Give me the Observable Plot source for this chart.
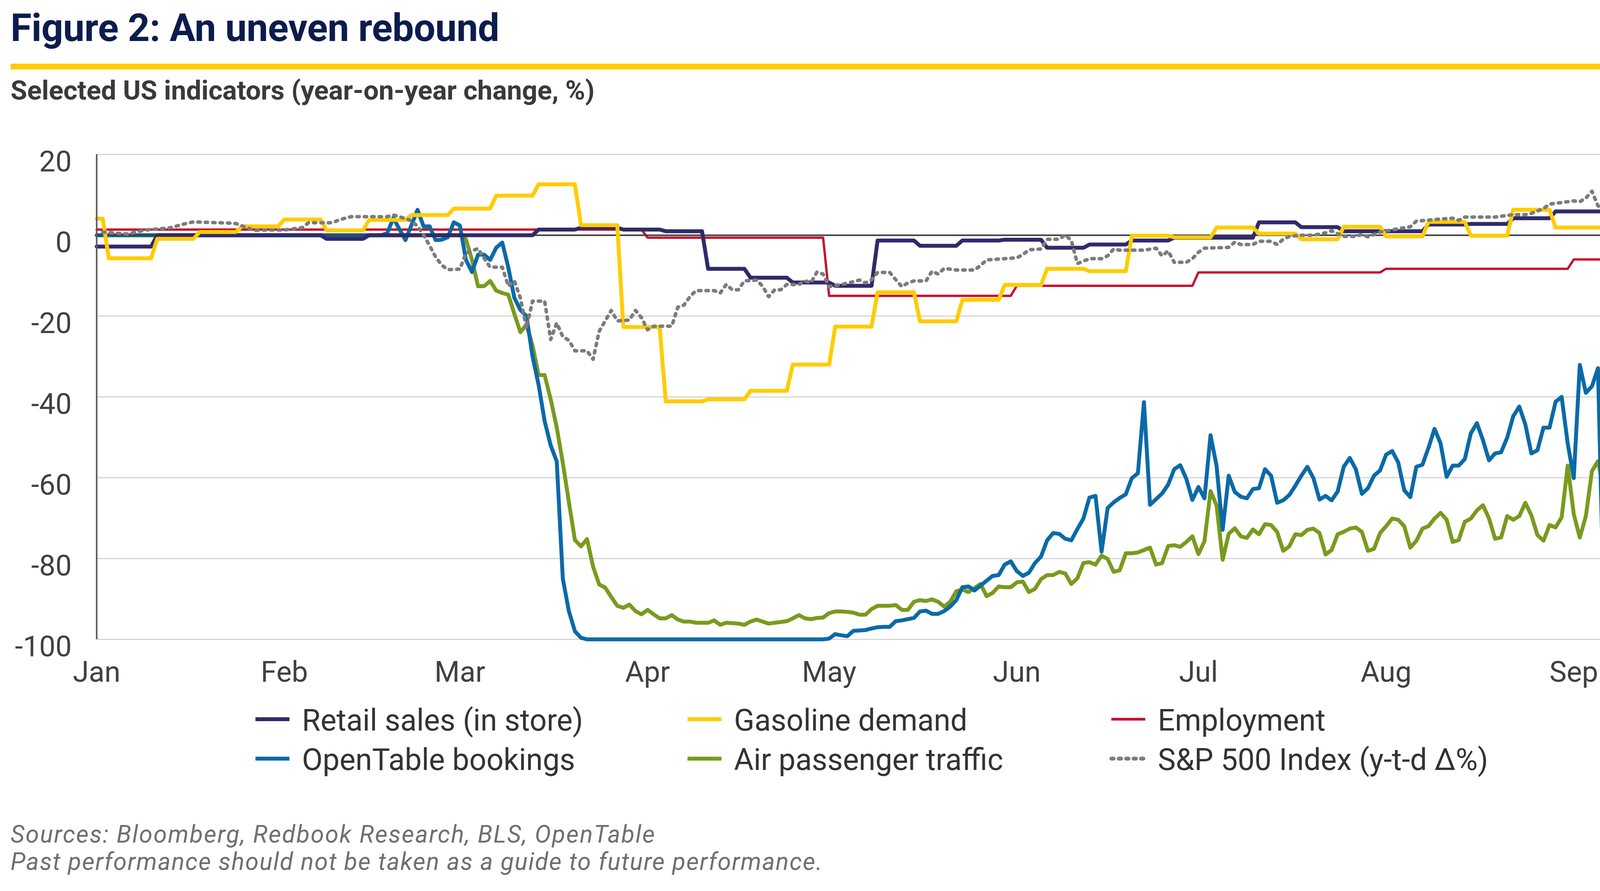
<!DOCTYPE html>
<html>
<head>
<meta charset="utf-8">
<script src="https://cdn.jsdelivr.net/npm/d3@7"></script>
<script src="https://cdn.jsdelivr.net/npm/@observablehq/plot@0.6"></script>
<style>
html,body{margin:0;padding:0;background:#fff;}
body{width:4224px;height:2282px;position:relative;overflow:hidden;font-family:Roboto,"Liberation Sans",sans-serif;}
.t{position:absolute;white-space:nowrap;line-height:1;}
#title{left:27px;top:23px;font-size:98px;font-weight:700;color:#0b1c4d;}
#rule{position:absolute;left:27px;top:163px;width:4176px;height:15px;background:#ffcc00;}
#subtitle{left:27px;top:197px;font-size:69px;font-weight:700;color:#3a3a3a;}
#chart{position:absolute;left:0;top:300px;}
.lg{font-size:77px;color:#333;}
.ft{font-size:62px;font-style:italic;color:#6f6f6f;}
.sw{position:absolute;}
</style>
</head>
<body>
<div id="title" class="t" data-w="1251">Figure 2: An uneven rebound</div>
<div id="rule"></div>
<div id="subtitle" class="t" data-w="1495">Selected US indicators (year-on-year change, %)</div>
<div id="chart"></div>
<div id="legend"></div>
<div class="t ft" style="left:27px;top:2106px" data-w="1652">Sources: Bloomberg, Redbook Research, BLS, OpenTable</div>
<div class="t ft" style="left:27px;top:2176px" data-w="2080">Past performance should not be taken as a guide to future performance.</div>
<script>
// ---------- Data ----------
const yTicks = [-100, -80, -60, -40, -20, 0, 20];
const monthLabels = ["Jan","Feb","Mar","Apr","May","Jun","Jul","Aug","Sep"];

const seriesNames = ["Retail sales (in store)","Gasoline demand","Employment","OpenTable bookings","Air passenger traffic","S&P 500 Index (y-t-d \u0394%)"];
const seriesColors = ["#2f2b6b","#ffcc00","#c8102e","#0a6aa8","#7a9a1e","#7c7c7c"];

// Weekly / monthly step series: [month, day, value from that day]
const retailSteps = [[1,1,-2.8],[1,11,0.0],[2,8,-0.9],[2,15,0.0],[3,14,1.4],[3,21,1.85],[3,28,1.4],[4,4,1.0],[4,11,-8.3],[4,18,-10.5],[4,25,-11.7],[5,2,-12.5],[5,9,-1.3],[5,16,-2.6],[5,23,-1.3],[5,30,-1.1],[6,6,-3.1],[6,13,-2.3],[6,20,-1.3],[6,27,-0.6],[7,11,3.2],[7,18,2.0],[7,25,1.0],[8,8,2.65],[8,15,2.8],[8,22,4.2],[8,29,5.9]];
const gasolineSteps = [[1,1,4.1],[1,3,-5.7],[1,11,-0.9],[1,18,0.8],[1,25,2.2],[2,1,3.9],[2,8,1.2],[2,15,3.8],[2,22,5.0],[2,29,6.6],[3,7,9.8],[3,14,12.6],[3,21,2.5],[3,28,-22.7],[4,4,-41.1],[4,11,-40.6],[4,18,-38.5],[4,25,-32.0],[5,2,-22.6],[5,9,-14.1],[5,16,-21.3],[5,23,-16.0],[5,30,-12.3],[6,6,-8.3],[6,13,-8.9],[6,20,-0.1],[6,27,-0.5],[7,4,1.9],[7,11,0.4],[7,18,-1.0],[7,25,2.1],[8,1,-0.3],[8,8,3.3],[8,15,-0.1],[8,22,6.3],[8,29,1.9]];
const employmentSteps = [[1,1,1.4],[4,1,-0.6],[5,1,-15.0],[6,1,-12.5],[7,1,-9.2],[8,1,-8.3],[9,1,-6.0]];

// OpenTable bookings: early points [month, day, value], then daily values by month
const openTableEarly = [[1,1,0.0],[2,17,0.0],[2,18,0.5],[2,19,4.3],[2,20,1.5],[2,21,-1.2],[2,22,2.5],[2,23,6.3],[2,24,2.2],[2,25,2.2],[2,26,-1.2],[2,27,-1.1],[2,28,-0.5],[2,29,3.2]];
const openTableMar = [2.4,-6.1,-9.1,-4.8,-4.8,-6.1,-3.1,-1.8,-8.0,-15.5,-18.5,-20.0,-30.0,-37.0,-46.0,-52.0,-56.0,-85.0,-93.0,-98.0,-99.6,-100,-100,-100,-100,-100,-100,-100,-100,-100,-100];
const openTableApr = [-100,-100,-100,-100,-100,-100,-100,-100,-100,-100,-100,-100,-100,-100,-100,-100,-100,-100,-100,-100,-100,-100,-100,-100,-100,-100,-100,-100,-100,-100];
const openTableMay = [-99.8,-98.7,-99.0,-99.2,-97.9,-97.8,-97.7,-97.3,-97.0,-96.9,-96.9,-95.5,-95.3,-95.0,-94.7,-93.1,-92.9,-93.7,-93.7,-93.0,-91.9,-90.3,-87.1,-86.9,-87.9,-86.7,-85.5,-84.3,-84.1,-81.5,-80.7];
const openTableJun = [-83.1,-84.3,-83.5,-81.1,-79.5,-75.5,-73.7,-73.9,-75.1,-75.5,-72.7,-70.1,-64.9,-64.5,-78.3,-67.5,-66.1,-65.0,-64.1,-60.1,-58.9,-41.3,-66.7,-65.3,-63.9,-61.7,-57.9,-56.9,-60.3,-65.5];
const openTableJul = [-62.3,-65.1,-49.5,-57.1,-72.9,-59.5,-63.5,-64.7,-65.1,-62.8,-62.6,-57.9,-59.5,-66.2,-65.6,-64.3,-62.0,-59.5,-57.3,-60.1,-65.4,-64.5,-65.6,-63.4,-57.3,-55.1,-57.9,-64.0,-62.6,-59.5,-58.2];
const openTableAug = [-54.3,-53.4,-56.2,-63.1,-64.8,-57.3,-56.8,-52.6,-47.9,-51.5,-59.8,-57.0,-57.0,-55.4,-49.0,-46.5,-50.7,-55.7,-54.0,-53.7,-50.1,-44.8,-42.4,-46.8,-54.0,-53.2,-47.6,-47.6,-41.2,-40.0,-51.5];
const openTableSep = [-60.1,-32.1,-39.0,-37.4,-32.9,-94.5,-13.7,-18.7,-18.7,-18.7];

// Air passenger traffic
const airEarly = [[1,1,0.0],[2,29,0.0]];
const airMar = [0.0,-1.0,-6.1,-12.6,-12.6,-11.3,-13.7,-14.3,-14.7,-19.5,-24.0,-22.1,-27.3,-34.6,-34.6,-40.6,-47.6,-56.3,-66.0,-75.4,-77.0,-75.2,-82.0,-86.4,-87.2,-89.5,-91.7,-92.2,-91.4,-93.0,-93.8];
const airApr = [-92.7,-93.8,-94.8,-94.8,-94.0,-95.1,-95.6,-95.6,-95.9,-95.9,-95.9,-95.3,-96.4,-95.9,-96.0,-96.1,-96.4,-95.6,-95.1,-95.6,-96.1,-95.9,-95.7,-95.5,-94.8,-94.0,-94.8,-95.0,-94.7,-94.6];
const airMay = [-93.5,-93.1,-93.1,-93.2,-93.4,-93.9,-93.9,-92.5,-91.7,-91.7,-91.7,-91.5,-92.7,-92.7,-90.7,-90.3,-90.5,-90.1,-90.7,-91.9,-90.7,-88.1,-87.7,-88.3,-87.3,-86.3,-89.3,-88.5,-86.9,-87.1,-87.1];
const airJun = [-85.9,-85.7,-88.3,-87.5,-85.1,-84.1,-84.1,-83.3,-83.7,-86.3,-84.9,-81.1,-80.9,-81.5,-79.3,-80.1,-83.3,-82.9,-78.7,-78.7,-78.5,-77.9,-77.3,-81.5,-81.1,-76.9,-76.7,-77.1,-75.9,-74.5];
const airJul = [-78.9,-75.7,-63.3,-66.9,-80.3,-73.9,-72.5,-74.5,-74.9,-72.8,-74.0,-71.5,-71.7,-73.4,-78.1,-77.0,-74.0,-74.2,-72.9,-72.6,-73.7,-79.0,-77.9,-74.0,-73.4,-72.6,-72.3,-73.4,-78.1,-77.6,-73.7];
const airAug = [-72.0,-70.1,-70.4,-72.0,-77.3,-75.6,-72.6,-72.0,-70.1,-68.7,-70.4,-75.9,-75.4,-70.9,-70.1,-68.1,-66.8,-70.1,-75.1,-74.8,-69.5,-70.4,-69.5,-66.2,-69.3,-74.2,-75.6,-71.7,-72.3,-69.8,-57.0];
const airSep = [-69.0,-74.8,-69.5,-58.4,-55.9,-63.2,-71.2,-59.3,-59.3,-59.3];

// S&P 500 year-to-date change: [month, day, value]
const sp500 = [
[1,2,0.8],[1,6,0.3],[1,9,1.3],[1,13,1.8],[1,16,3.0],[1,17,3.3],[1,23,3.0],[1,24,2.9],[1,27,1.2],[1,29,1.3],
[2,1,1.3],[2,4,1.9],[2,5,3.1],[2,9,3.1],[2,10,3.8],[2,12,4.6],[2,18,4.6],[2,19,5.0],[2,20,4.6],[2,22,3.6],[2,23,2.2],[2,24,0.1],[2,25,-2.6],[2,26,-5.4],[2,27,-7.4],[2,28,-8.5],
[3,1,-8.4],[3,2,-4.4],[3,4,-3.3],[3,5,-5.7],[3,6,-7.9],[3,8,-7.9],[3,9,-12.6],[3,10,-11.3],[3,11,-15.6],[3,12,-23.0],[3,13,-16.3],[3,15,-16.3],[3,16,-25.8],[3,17,-21.7],[3,18,-25.1],[3,19,-26.0],[3,20,-28.6],[3,22,-28.6],[3,23,-30.7],[3,24,-23.8],[3,25,-21.2],[3,26,-18.6],[3,27,-21.2],[3,29,-21.0],[3,30,-18.6],[3,31,-20.4],
[4,1,-23.4],[4,2,-22.5],[4,5,-22.5],[4,6,-17.8],[4,7,-17.3],[4,8,-15.2],[4,9,-13.7],[4,12,-13.7],[4,13,-14.3],[4,14,-12.2],[4,15,-13.5],[4,16,-13.5],[4,17,-11.3],[4,19,-11.1],[4,20,-12.6],[4,21,-15.2],[4,22,-13.5],[4,23,-13.5],[4,24,-12.2],[4,26,-12.2],[4,27,-11.3],[4,28,-11.7],[4,29,-9.1],[4,30,-9.6],
[5,1,-12.7],[5,3,-12.2],[5,5,-11.5],[5,6,-11.1],[5,7,-11.8],[5,8,-11.0],[5,9,-9.2],[5,11,-9.2],[5,12,-11.0],[5,13,-12.7],[5,14,-11.8],[5,15,-11.3],[5,17,-11.3],[5,18,-8.9],[5,19,-9.6],[5,20,-8.2],[5,22,-8.6],[5,25,-8.6],[5,26,-7.5],[5,27,-6.1],[5,30,-5.8],
[6,1,-5.6],[6,2,-4.8],[6,3,-3.6],[6,5,-3.4],[6,6,-1.0],[6,8,-1.0],[6,9,0.1],[6,10,-1.3],[6,11,-7.0],[6,13,-5.8],[6,15,-5.8],[6,16,-5.1],[6,17,-3.4],[6,18,-3.7],[6,22,-3.7],[6,24,-3.2],[6,25,-5.1],[6,26,-3.9],[6,27,-6.7],[6,29,-6.7],[6,30,-5.8],
[7,1,-4.2],[7,2,-3.2],[7,6,-3.0],[7,7,-1.7],[7,8,-2.3],[7,10,-2.3],[7,11,-1.5],[7,13,-1.5],[7,14,-2.3],[7,15,-1.0],[7,16,-0.3],[7,18,0.0],[7,20,0.0],[7,22,0.6],[7,23,1.1],[7,24,0.4],[7,25,-0.3],[7,27,-0.3],[7,28,0.2],[7,29,-0.4],[7,31,0.8],
[8,3,1.6],[8,5,2.1],[8,6,3.5],[8,10,4.0],[8,12,4.2],[8,13,3.7],[8,14,4.5],[8,19,4.5],[8,22,5.1],[8,24,5.1],[8,25,5.4],[8,27,6.6],[8,28,7.7],[8,31,8.3],
[9,1,8.5],[9,2,8.3],[9,3,9.2],[9,4,10.9],[9,5,7.3],[9,6,6.4],[9,9,6.4],[9,10,3.3]
];

// ---------- Helpers ----------
const YEAR = 2020;
const day = (m, d) => new Date(Date.UTC(YEAR, m - 1, d));
const lastDay = day(9, 10);
const xStart = day(1, 1);
const xEnd = new Date(Date.UTC(YEAR, 8, 10, 22));

function fromSteps(steps) {
  const pts = [];
  steps.forEach(([m, d, v], i) => {
    const start = day(m, d);
    const end = i + 1 < steps.length ? d3.utcDay.offset(day(steps[i + 1][0], steps[i + 1][1]), -1) : lastDay;
    pts.push({date: start, value: v});
    if (+end > +start) pts.push({date: end, value: v});
  });
  return pts;
}
const fromTriplets = (arr) => arr.map(([m, d, v]) => ({date: day(m, d), value: v}));
const fromMonth = (m, vals) => vals.map((v, i) => ({date: day(m, i + 1), value: v}));

const retail = fromSteps(retailSteps);
const gasoline = fromSteps(gasolineSteps);
const employment = fromSteps(employmentSteps);
const openTable = [...fromTriplets(openTableEarly), ...fromMonth(3, openTableMar), ...fromMonth(4, openTableApr), ...fromMonth(5, openTableMay), ...fromMonth(6, openTableJun), ...fromMonth(7, openTableJul), ...fromMonth(8, openTableAug), ...fromMonth(9, openTableSep)];
const air = [...fromTriplets(airEarly), ...fromMonth(3, airMar), ...fromMonth(4, airApr), ...fromMonth(5, airMay), ...fromMonth(6, airJun), ...fromMonth(7, airJul), ...fromMonth(8, airAug), ...fromMonth(9, airSep)];
const spx = fromTriplets(sp500);

const monthTicks = monthLabels.map((_, i) => day(i + 1, 1));
const solid = {x: "date", y: "value", strokeLinejoin: "round", strokeLinecap: "round"};

const chart = Plot.plot({
  width: 4224, height: 1480,
  marginLeft: 247, marginRight: 42, marginTop: 95, marginBottom: 143,
  style: {fontFamily: "Roboto, 'Liberation Sans', sans-serif", fontSize: "74px", color: "#404040", background: "transparent", overflow: "visible"},
  x: {type: "utc", domain: [xStart, xEnd], label: null},
  y: {domain: [-100, 20], label: null},
  marks: [
    Plot.ruleY(yTicks.filter(d => d !== 0), {stroke: "#d6d6d6", strokeWidth: 3}),
    Plot.axisX({ticks: monthTicks, tickSize: 0, tickPadding: 56, tickFormat: d => monthLabels[d.getUTCMonth()], label: null, fontSize: 74, fill: "#404040"}),
    Plot.axisY({ticks: yTicks, tickSize: 0, tickPadding: 64, dy: 20, tickFormat: d => String(d), label: null, fontSize: 74, fill: "#404040"}),
    Plot.lineY(employment, {...solid, stroke: seriesColors[2], strokeWidth: 6}),
    Plot.lineY(air, {...solid, stroke: seriesColors[4], strokeWidth: 10}),
    Plot.lineY(openTable, {...solid, stroke: seriesColors[3], strokeWidth: 10}),
    Plot.ruleY([0], {stroke: "#3f3f3f", strokeWidth: 4}),
    Plot.lineY(retail, {...solid, stroke: seriesColors[0], strokeWidth: 10}),
    Plot.lineY(gasoline, {...solid, stroke: seriesColors[1], strokeWidth: 10}),
    Plot.lineY(spx, {...solid, stroke: seriesColors[5], strokeWidth: 9, strokeDasharray: "6,13"}),
    Plot.ruleX([xStart], {y1: -100, y2: 20, stroke: "#5a5a5a", strokeWidth: 4})
  ]
});
document.getElementById("chart").appendChild(chart);

// ---------- Legend ----------
const legendCols = [654, 1760, 2845];
const legendRows = [1842, 1943];
const legend = document.getElementById("legend");
seriesNames.forEach((name, i) => {
  const col = legendCols[i % 3], row = legendRows[Math.floor(i / 3)];
  const dotted = i === 5;
  const sw = document.createElementNS("http://www.w3.org/2000/svg", "svg");
  sw.setAttribute("class", "sw");
  sw.setAttribute("width", 100); sw.setAttribute("height", 30);
  sw.style.left = (col - 6) + "px"; sw.style.top = (row - 15) + "px";
  sw.innerHTML = `<line x1="6" x2="93" y1="15" y2="15" stroke="${seriesColors[i]}" stroke-width="${i === 2 ? 7 : 10}" stroke-linecap="${dotted ? 'round' : 'butt'}" ${dotted ? 'stroke-dasharray="6,13"' : ''}/>`;
  legend.appendChild(sw);
  const t = document.createElement("div");
  t.className = "t lg";
  t.textContent = name;
  t.style.left = (col + 119) + "px";
  t.style.top = (row + 30 - 0.8415 * 77) + "px";
  legend.appendChild(t);
});

// ---------- Fit text widths to the reference ----------
document.querySelectorAll("[data-w]").forEach(el => {
  const w = el.getBoundingClientRect().width;
  const n = el.textContent.length;
  el.style.letterSpacing = ((+el.dataset.w - w) / n).toFixed(2) + "px";
});
</script>
</body>
</html>
